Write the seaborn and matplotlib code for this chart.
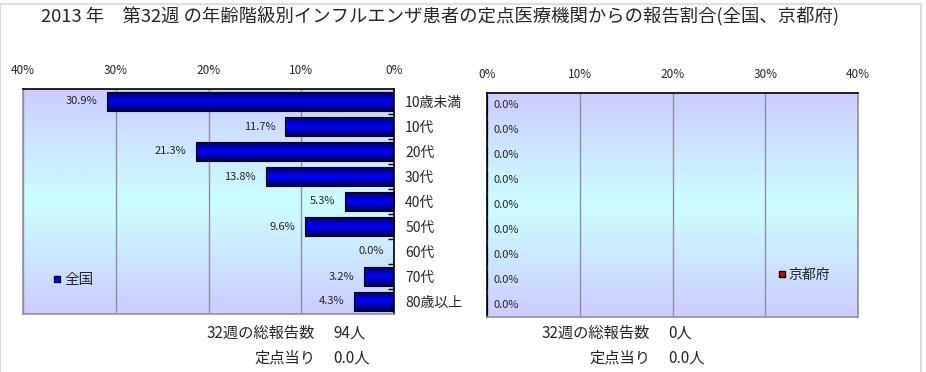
import numpy as np
import pandas as pd
import matplotlib
matplotlib.use("Agg")
import matplotlib.pyplot as plt
from matplotlib.lines import Line2D
from matplotlib.patches import Rectangle
import seaborn as sns

# Chart data
age_groups = ["10歳未満", "10代", "20代", "30代", "40代", "50代", "60代", "70代", "80歳以上"]
zenkoku_pct = [30.9, 11.7, 21.3, 13.8, 5.3, 9.6, 0.0, 3.2, 4.3]
kyoto_pct = [0.0, 0.0, 0.0, 0.0, 0.0, 0.0, 0.0, 0.0, 0.0]
x_ticks = [0, 10, 20, 30, 40]
title = "2013 年　第32週 の年齢階級別インフルエンザ患者の定点医療機関からの報告割合(全国、京都府)"
zenkoku_total = "94人"
zenkoku_per_site = "0.0人"
kyoto_total = "0人"
kyoto_per_site = "0.0人"

df = pd.DataFrame({"age": age_groups, "zenkoku": zenkoku_pct, "kyoto": kyoto_pct})

sns.set_style("white")
plt.rcParams["font.family"] = ["Noto Sans CJK JP", "DejaVu Sans"]

W, H = 926, 372
fig = plt.figure(figsize=(W / 100, H / 100), dpi=100)

# light grey outer frame
fig.patches.append(Rectangle((0.0005, -0.01), 921 / W, 1.0, transform=fig.transFigure,
                             fill=False, edgecolor="#dddddd", lw=1.5))


def px_axes(x0, y0, x1, y1):
    return fig.add_axes([x0 / W, 1 - y1 / H, (x1 - x0) / W, (y1 - y0) / H])


ax_l = px_axes(23, 89, 394, 314)
ax_r = px_axes(487, 93, 858, 317)

bg_t = np.interp(np.linspace(0, 1, 200), [0, 0.5, 1], [0, 1, 0])
bg_img = (np.array([0.80, 0.80, 1.0])[None, :] * (1 - bg_t[:, None])
          + np.array([0.80, 1.0, 1.0])[None, :] * bg_t[:, None])[:, None, :]

bar_t = np.interp(np.linspace(0, 1, 60), [0, 0.5, 1], [0, 1, 0])
bar_img = (np.array([0.0, 0.0, 0.35])[None, :] * (1 - bar_t[:, None])
           + np.array([0.0, 0.0, 1.0])[None, :] * bar_t[:, None])[:, None, :]


def style_panel(ax, col, xlim, dark_spines):
    sns.barplot(data=df, x=col, y="age", color="#0000ff", edgecolor="black",
                linewidth=0.8, width=0.76, ax=ax, legend=False)
    n = len(df)
    # gradient background
    ax.imshow(bg_img, extent=[xlim[0], xlim[1], n - 0.5, -0.5], aspect="auto",
              zorder=0, interpolation="bilinear")
    # gradient fill for each bar
    for p in ax.patches:
        x0, y0 = p.get_x(), p.get_y()
        w, h = p.get_width(), p.get_height()
        if w == 0:
            continue
        im = ax.imshow(bar_img, extent=[x0, x0 + w, y0 + h, y0], aspect="auto",
                       zorder=1.5, interpolation="bilinear")
        im.set_clip_path(p)
        p.set_facecolor("none")
        p.set_zorder(2)
    ax.set_xlim(*xlim)
    ax.set_ylim(n - 0.5, -0.5)
    ax.set_xticks(x_ticks)
    ax.set_xticklabels([f"{t}%" for t in x_ticks], fontsize=8.5)
    ax.xaxis.tick_top()
    ax.tick_params(axis="x", length=0, pad=9)
    ax.grid(axis="x", color="#8f8f9f", lw=1)
    ax.grid(axis="y", visible=False)
    ax.set_axisbelow(True)
    ax.set_xlabel("")
    ax.set_ylabel("")
    for s in ax.spines.values():
        s.set_visible(True)
        s.set_color("#8f8f9f")
        s.set_linewidth(1.2)
    for s in dark_spines:
        ax.spines[s].set_color("black")
    ax.set_yticks(np.arange(n - 1) + 0.5, minor=True)


style_panel(ax_l, "zenkoku", (40, 0), ["top", "right"])
ax_l.yaxis.tick_right()
ax_l.tick_params(axis="y", which="major", length=0, pad=8, labelsize=10)
ax_l.tick_params(axis="y", which="minor", direction="in", length=4, width=1, color="black")
for i, v in enumerate(df["zenkoku"]):
    ax_l.annotate(f"{v:.1f}%", xy=(v, i), xytext=(-10, 0), textcoords="offset pixels",
                  ha="right", va="center", fontsize=8)
ax_l.legend(handles=[Line2D([0], [0], marker="s", ls="none", markerfacecolor="#0000ff",
                            markeredgecolor="black", markersize=5, label="全国")],
            loc="center left", bbox_to_anchor=(0.083, 0.151), frameon=False,
            handlelength=0.5, handletextpad=0.2, borderpad=0, borderaxespad=0, fontsize=10.5)

style_panel(ax_r, "kyoto", (0, 40), ["top", "left"])
ax_r.tick_params(axis="y", which="major", length=0, labelleft=False)
ax_r.tick_params(axis="y", which="minor", direction="in", length=4, width=1, color="black")
for i, v in enumerate(df["kyoto"]):
    ax_r.annotate(f"{v:.1f}%", xy=(v, i), xytext=(6, 0), textcoords="offset pixels",
                  ha="left", va="center", fontsize=8)
ax_r.legend(handles=[Line2D([0], [0], marker="s", ls="none", markerfacecolor="#dd0000",
                            markeredgecolor="black", markersize=5, label="京都府")],
            loc="center left", bbox_to_anchor=(0.785, 0.187), frameon=False,
            handlelength=0.5, handletextpad=0.2, borderpad=0, borderaxespad=0, fontsize=10)

fig.text(440 / W, 1 - 16 / H, title, ha="center", va="center", fontsize=13.2)

for lx, vx, total, per in [(315, 333, zenkoku_total, zenkoku_per_site),
                           (650, 668, kyoto_total, kyoto_per_site)]:
    fig.text(lx / W, 1 - 333 / H, "32週の総報告数", ha="right", va="center", fontsize=11)
    fig.text(vx / W, 1 - 333 / H, total, ha="left", va="center", fontsize=11)
    fig.text(lx / W, 1 - 358 / H, "定点当り", ha="right", va="center", fontsize=11)
    fig.text(vx / W, 1 - 358 / H, per, ha="left", va="center", fontsize=11)

fig.savefig("out.png", dpi=100)
